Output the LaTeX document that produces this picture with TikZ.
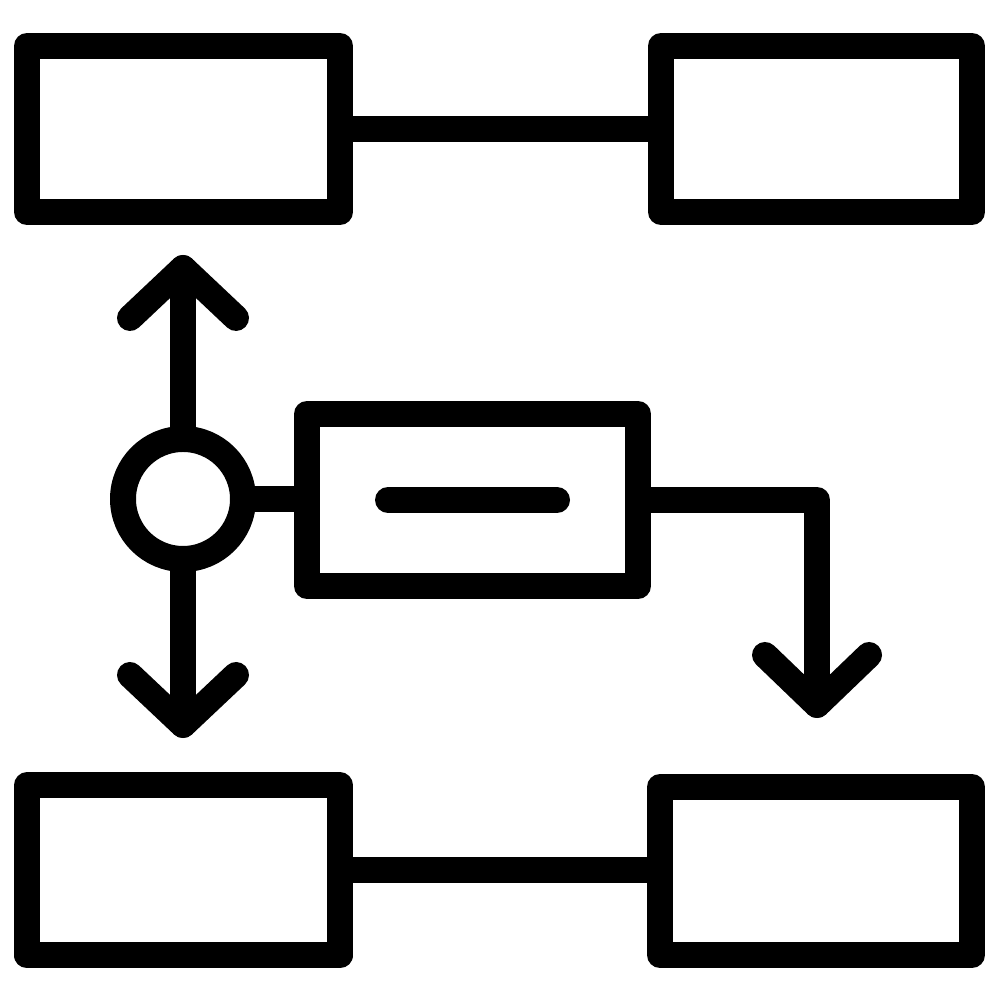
\documentclass[tikz,border=0pt]{standalone}
\usepackage{tikz}
\usetikzlibrary{calc}
\tikzset{
  icon/.style={line width=0.26cm, line cap=round, line join=round, black},
  blk/.style={icon, draw, rectangle, inner sep=0pt, fill=white},
  hubring/.style={icon, draw, circle, inner sep=0pt, minimum size=1.2cm, fill=white}
}

\begin{document}
\begin{tikzpicture}

  \def\armx{0.53}
  \def\army{0.5}

  \useasboundingbox (0,0) rectangle (10,10);

  \node[blk, minimum width=3.13cm, minimum height=1.66cm] (tl) at (1.835,8.71) {};
  \node[blk, minimum width=3.11cm, minimum height=1.66cm] (tr) at (8.165,8.71) {};
  \node[blk, minimum width=3.13cm, minimum height=1.70cm] (bl) at (1.835,1.295) {};
  \node[blk, minimum width=3.12cm, minimum height=1.68cm] (br) at (8.16,1.29) {};
  \node[blk, minimum width=3.31cm, minimum height=1.72cm] (mid) at (4.725,5.00) {};
  \node[hubring] (hub) at (1.83,5.01) {};

  \coordinate (uptip) at (1.83,7.32);
  \coordinate (downtip) at (1.83,2.75);
  \coordinate (bend) at (8.17,5.00);
  \coordinate (outtip) at (8.17,2.95);

  % links between boxes
  \draw[icon] (tl.east) -- (tr.west);
  \draw[icon] (bl.east) -- (bl.east -| br.west);
  \draw[icon] (hub.east) -- (hub.east -| mid.west);

  % minus sign in the middle box
  \draw[icon] ($(mid.center)+(-0.845,0)$) -- ($(mid.center)+(0.845,0)$);

  % up and down arrows from the hub
  \draw[icon] (hub.north) -- (uptip);
  \draw[icon] (uptip) +(-\armx,-\army) -- (uptip) -- +(\armx,-\army);
  \draw[icon] (hub.south) -- (downtip);
  \draw[icon] (downtip) +(-\armx,\army) -- (downtip) -- +(\armx,\army);

  % elbow arrow out of the middle box
  \draw[icon] (mid.east |- bend) -- (bend) -- (outtip);
  \draw[icon] (outtip) +(-0.52,\army) -- (outtip) -- +(0.52,\army);

\end{tikzpicture}
\end{document}
